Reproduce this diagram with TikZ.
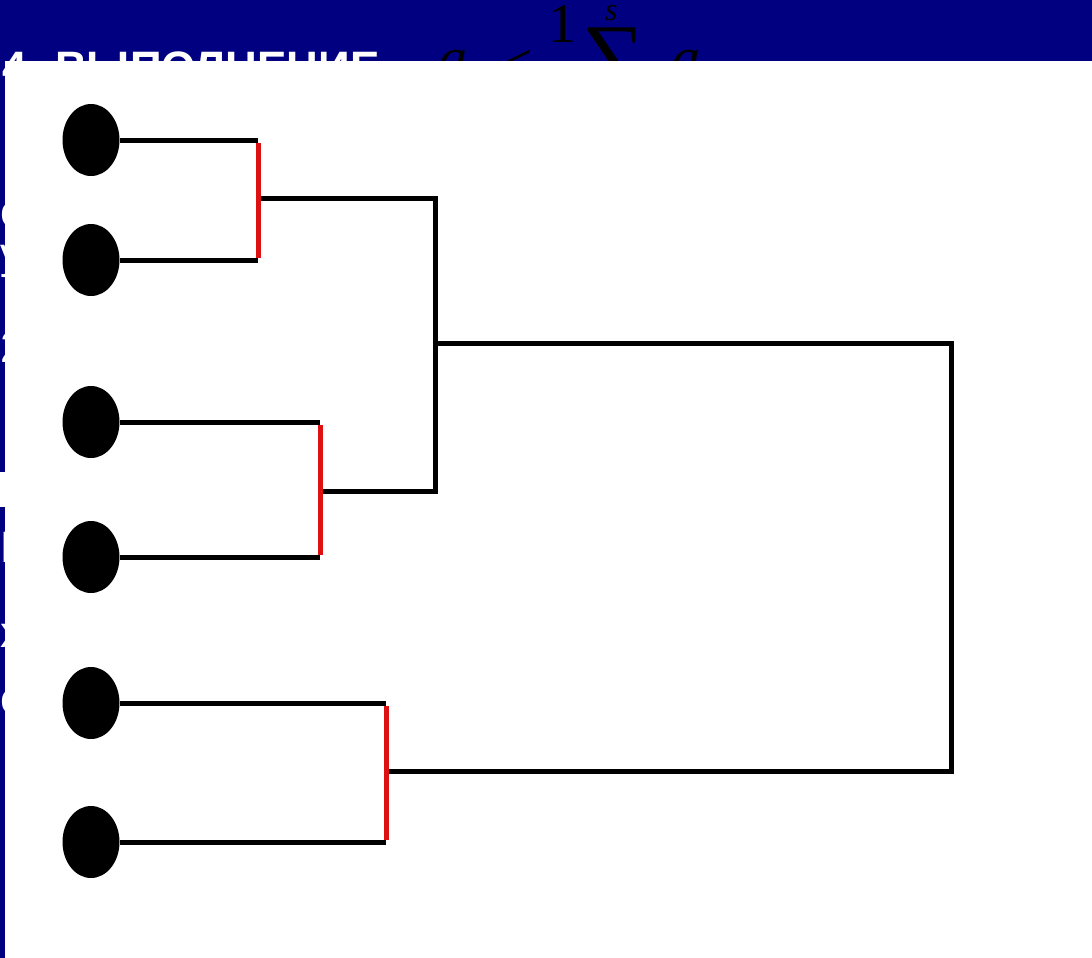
\documentclass[tikz,border=0pt]{standalone}
\usepackage{fontspec}
\setmainfont{Liberation Serif}
\newfontfamily\slidesans{Liberation Sans}
\usetikzlibrary{shapes.geometric}
\definecolor{slidenavy}{HTML}{000080}
\definecolor{mergered}{HTML}{DD1111}
\tikzset{
  leaf/.style={ellipse, fill=black, draw=none, minimum width=57pt, minimum height=72pt, inner sep=0pt},
  branch/.style={draw=black, line width=5pt},
  merge/.style={draw=mergered, line width=5pt},
  slidetext/.style={text=white, inner sep=0pt, font=\slidesans\fontsize{44}{48}\selectfont},
  formula/.style={text=black, inner sep=0pt}
}
\begin{document}
\begin{tikzpicture}[x=1pt,y=-1pt]
\useasboundingbox (0,0) rectangle (1092,958);
% slide background
\fill[slidenavy] (0,0) rectangle (1092,958);

% slide heading and formula
\node[text=white, inner sep=0pt, anchor=north west, font=\slidesans\bfseries\fontsize{44}{48}\selectfont] (head) at (2,52) {4. ВЫПОЛНЕНИЕ};
\node[formula, anchor=north west, font=\itshape\fontsize{58}{60}\selectfont] (fa) at (438,50) {a};
\node[formula, anchor=north west, font=\fontsize{58}{60}\selectfont] (fle) at (500,50) {≤};
\node[formula, anchor=north west, font=\fontsize{56}{60}\selectfont] (fone) at (548,5) {1};
\node[formula, anchor=north west, font=\itshape\fontsize{32}{36}\selectfont] (fs) at (605,5) {s};
\node[formula, anchor=north west, font=\fontsize{88}{90}\selectfont] (fsum) at (582,28) {∑};
\node[formula, anchor=north west, font=\itshape\fontsize{58}{60}\selectfont] (fa2) at (671,50) {a};

% body text lines at the left margin
\node[slidetext, anchor=base west] (t1) at (0,226) {с};
\node[slidetext, anchor=base west] (t2) at (0,268) {у};
\node[slidetext, anchor=base west] (t3) at (0,362) {2};
\node[slidetext, anchor=base west] (t4) at (0,562) {Е};
\node[slidetext, anchor=base west] (t5) at (0,647) {х};
\node[slidetext, anchor=base west] (t6) at (0,713) {е};

% white picture area
\fill[white] (5,61) rectangle (1092,958);
\fill[white] (0,472) rectangle (5,507);

% leaves
\node[leaf] (l1) at (91,140) {};
\node[leaf] (l2) at (91,260) {};
\node[leaf] (l3) at (91,422) {};
\node[leaf] (l4) at (91,557) {};
\node[leaf] (l5) at (91,703) {};
\node[leaf] (l6) at (91,842) {};

% merge points
\coordinate (r1t) at (258,140);
\coordinate (r1b) at (258,260);
\coordinate (r1m) at (258,198);
\coordinate (r2t) at (320,422);
\coordinate (r2b) at (320,557);
\coordinate (r2m) at (320,491);
\coordinate (r3t) at (386,703);
\coordinate (r3b) at (386,842);
\coordinate (r3m) at (386,771);
\coordinate (j1) at (435,198);
\coordinate (j1b) at (435,491);
\coordinate (j1m) at (435,343);
\coordinate (j2) at (951,343);
\coordinate (j2b) at (951,771);

% leaf branches
\draw[branch] (l1) -- (r1t);
\draw[branch] (l2) -- (r1b);
\draw[branch] (l3) -- (r2t);
\draw[branch] (l4) -- (r2b);
\draw[branch] (l5) -- (r3t);
\draw[branch] (l6) -- (r3b);

% upper links
\draw[branch] (r1m) -- (j1) -- (j1b) -- (r2m);
\draw[branch] (j1m) -- (j2) -- (j2b) -- (r3m);

% first-level merges
\draw[merge] ([yshift=-2.5pt]r1t) -- ([yshift=2.5pt]r1b);
\draw[merge] ([yshift=-2.5pt]r2t) -- ([yshift=2.5pt]r2b);
\draw[merge] ([yshift=-2.5pt]r3t) -- ([yshift=2.5pt]r3b);
\end{tikzpicture}
\end{document}
